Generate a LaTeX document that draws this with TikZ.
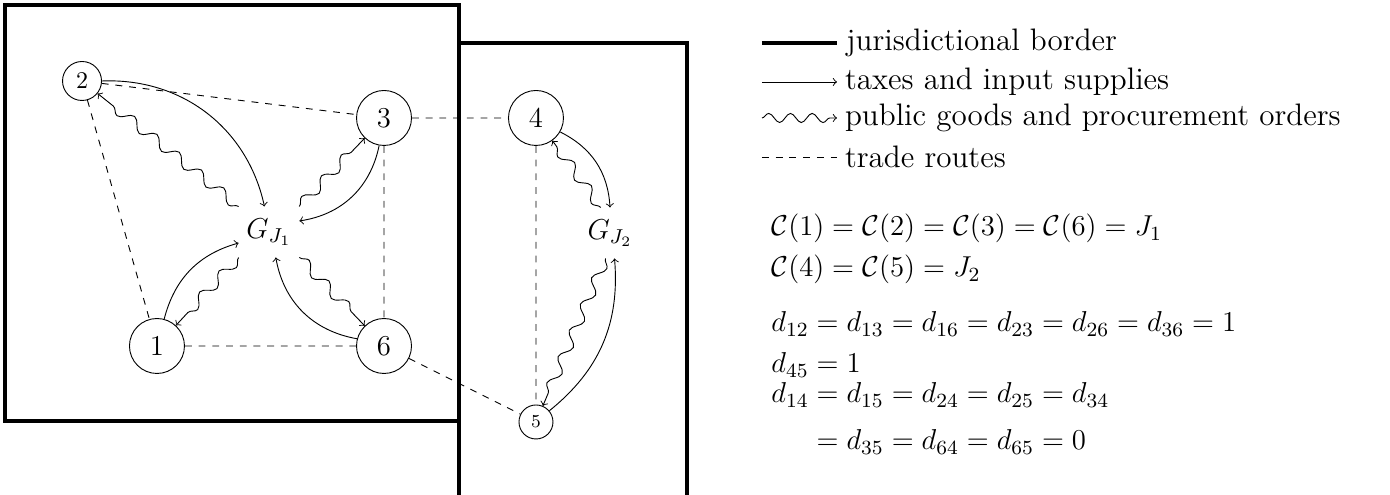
\documentclass[tikz,border=0pt]{standalone}
\usepackage{fix-cm}
\usetikzlibrary{decorations.pathmorphing}

\newcommand\legendsize{\fontsize{13.6}{16.3}\selectfont}
\newcommand\mathsize{\fontsize{12.6}{15.1}\selectfont}

\tikzset{
  town/.style={draw, circle, minimum size=0.846cm, inner sep=0pt, font=\mathsize},
  smalltown/.style={town, minimum size=0.6cm, font=\fontsize{10.5}{12}\selectfont},
  tinytown/.style={town, minimum size=0.523cm, font=\fontsize{8}{9.5}\selectfont},
  govt/.style={minimum width=0.92cm, minimum height=0.77cm, inner sep=0pt, font=\mathsize},
  border/.style={line width=1.6pt},
  tax/.style={->},
  goods/.style={->, decorate,
    decoration={snake, amplitude=2.3pt, segment length=12.5pt, post length=3pt}},
  route/.style={dashed},
  legend/.style={right, font=\legendsize},
  formula/.style={anchor=base west, font=\mathsize},
}

\begin{document}
\begin{tikzpicture}
    \useasboundingbox (0,0) rectangle (21.385,7.615);
    % jurisdictions
    \draw[border] (0.077,1.14) rectangle (7.066,7.54);
    \draw[border] (7.066,-0.5) rectangle (10.565,6.954);

    % towns and governments
    \node[town] (n1) at (2.415,2.292) {1};
    \node[smalltown] (n2) at (1.262,6.369) {2};
    \node[town] (n3) at (5.908,5.8) {3};
    \node[town] (n4) at (8.246,5.8) {4};
    \node[tinytown] (n5) at (8.246,1.123) {5};
    \node[town] (n6) at (5.908,2.292) {6};
    \node[govt] (gj1) at (4.138,4.046) {$G_{J_1}$};
    \node[govt] (gj2) at (9.385,4.031) {$G_{J_2}$};

    % trade routes
    \draw[route] (n2) -- (n3) (n2) -- (n1) (n3) -- (n4) (n3) -- (n6)
                 (n1) -- (n6) (n6) -- (n5) (n4) -- (n5);

    % taxes and input supplies
    \draw[tax] (n2.east) to[bend left=40] (gj1.100);
    \draw[tax] (n3.-100) to[bend left=35] (gj1.20);
    \draw[tax] (n1.75) to[bend left=30] (gj1.200);
    \draw[tax] (n6.165) to[bend left=35] (gj1.-75);
    \draw[tax] (n4.-30) to[bend left=30] (gj2.north);
    \draw[tax] (n5.40) to[bend right=28] (gj2.-80);

    % public goods and procurement orders
    \draw[goods] (gj1.north west) -- (n2);
    \draw[goods] (gj1.north east) -- (n3);
    \draw[goods] (gj1.south west) -- (n1);
    \draw[goods] (gj1.south east) -- (n6);
    \draw[goods] (gj2.110) -- (n4);
    \draw[goods] (gj2.-100) -- (n5);

    % legend
    \coordinate (lg1) at (11.723,6.954);
    \coordinate (lg2) at (11.723,6.354);
    \coordinate (lg3) at (11.723,5.8);
    \coordinate (lg4) at (11.723,5.2);
    \draw[border] (lg1) -- ++(1.154,0) node[legend] (lgborder) {jurisdictional border};
    \draw[tax] (lg2) -- ++(1.154,0) node[legend] (lgtax) {taxes and input supplies};
    \draw[->, decorate, decoration={snake, amplitude=2pt, segment length=9.5pt, post length=2pt}]
        (lg3) -- ++(1.154,0) node[legend] (lggoods) {public goods and procurement orders};
    \draw[route] (lg4) -- ++(1.154,0) node[legend] (lgroute) {trade routes};

    % jurisdiction map and distances
    \node[formula] (cmap1) at (11.745,3.985)
        {$\mathcal{C}(1)=\mathcal{C}(2)=\mathcal{C}(3)=\mathcal{C}(6)=J_1$};
    \node[formula] (cmap2) at (11.745,3.354)
        {$\mathcal{C}(4)=\mathcal{C}(5)=J_2$};
    \node[formula] (dist1) at (11.745,2.508)
        {$d_{12}=d_{13}=d_{16}=d_{23}=d_{26}=d_{36}=1$};
    \node[formula] (dist2) at (11.745,1.877) {$d_{45}=1$};
    \node[formula] (dist3) at (11.745,1.415)
        {$d_{14}=d_{15}=d_{24}=d_{25}=d_{34}$};
    \node[formula] (dist4) at (11.745,0.692)
        {$\hphantom{d_{14}}{}=d_{35}=d_{64}=d_{65}=0$};
\end{tikzpicture}
\end{document}
